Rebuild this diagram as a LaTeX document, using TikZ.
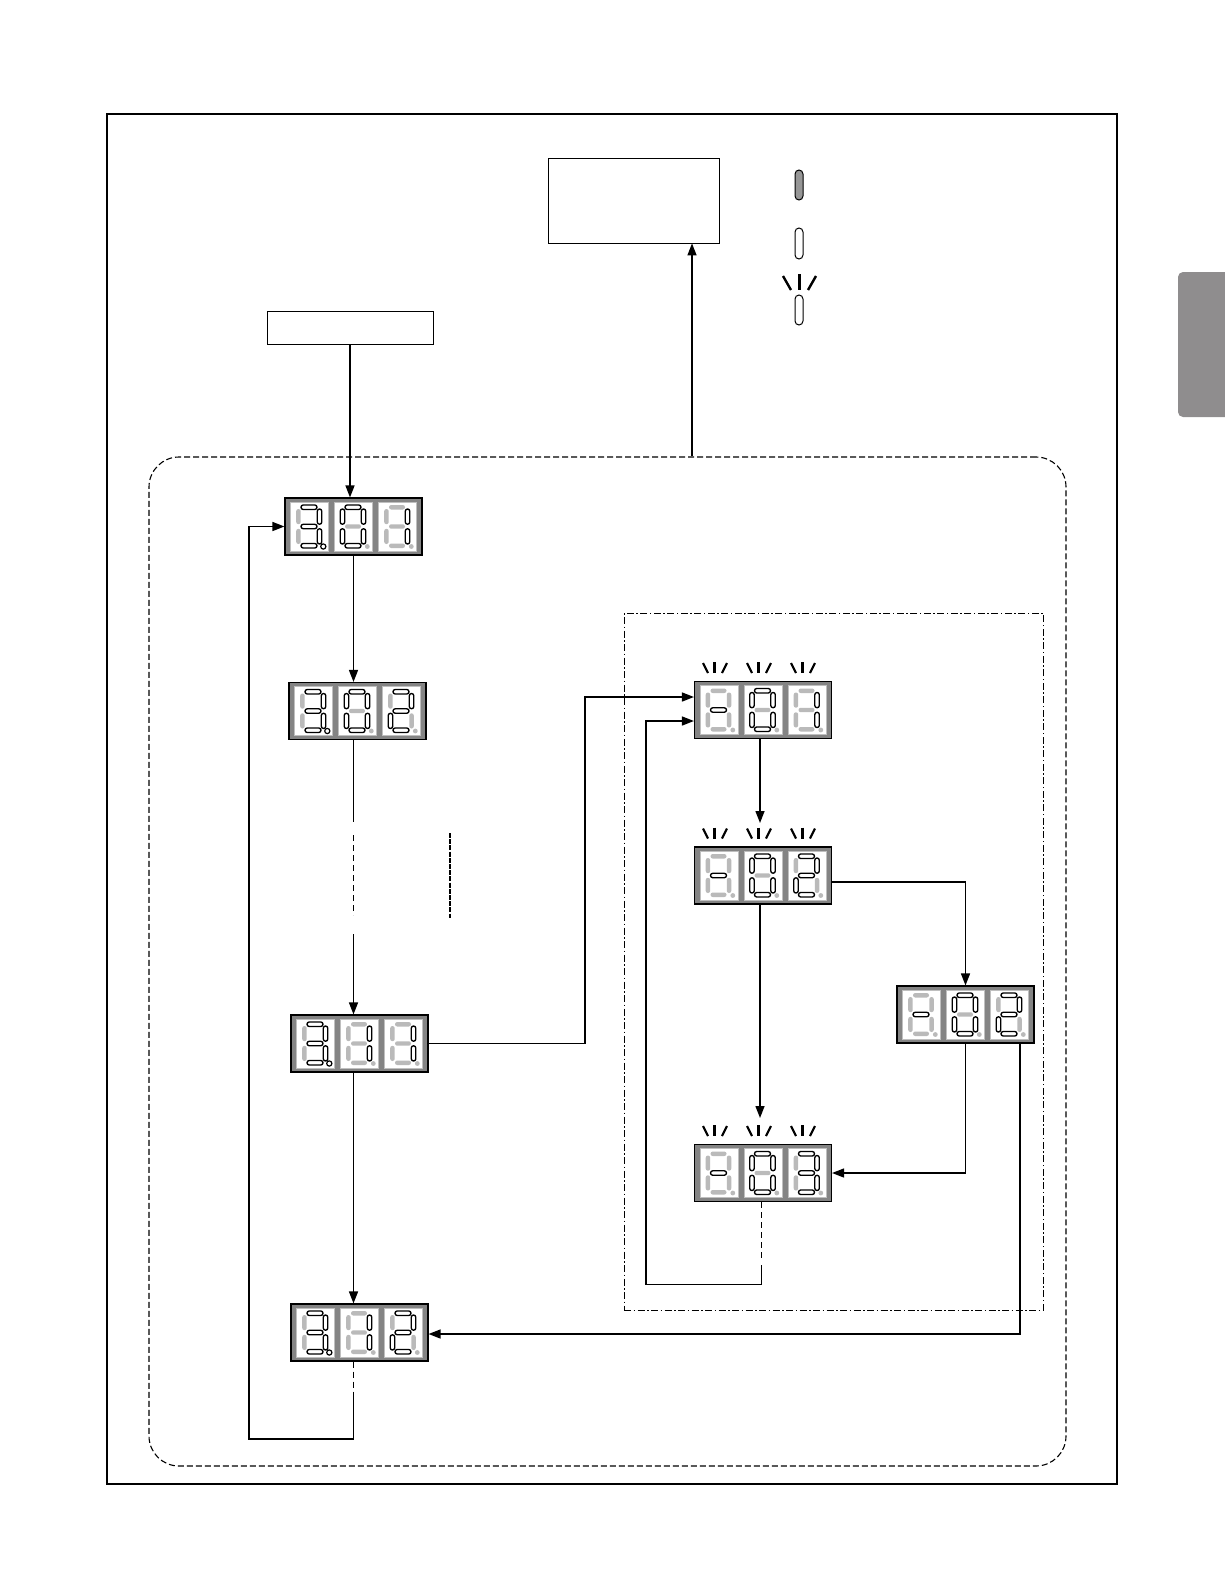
\documentclass[tikz,border=0pt]{standalone}
\usetikzlibrary{arrows.meta,calc}
\definecolor{dispgray}{RGB}{132,132,132}
\definecolor{segoffc}{RGB}{186,186,186}
\definecolor{tabgray}{RGB}{143,141,142}
\definecolor{ledgray}{RGB}{150,150,150}
\tikzset{
  ln/.style={line width=1.4pt},
  arr/.style={line width=1.4pt,-{Triangle[length=12pt,width=9pt]}},
  disp/.style={draw=black,fill=dispgray,minimum width=137pt,minimum height=57pt,inner sep=0pt,line width=1.1pt},
  cellst/.style={draw=gray!50,fill=white,line width=0.6pt},
  segon/.style={draw=black,fill=white,line width=1.35pt,rounded corners=2.2pt},
  segoff/.style={fill=segoffc,draw=none,rounded corners=2.2pt},
  ray/.style={line width=2.2pt},
  ledst/.style={draw=black,line width=1pt,rounded corners=4pt},
}
\newcommand\segp[5]{\ifnum#1=1 \path[segon] (#2,#3) rectangle (#4,#5);\else \path[segoff] (#2,#3) rectangle (#4,#5);\fi}
\newcommand\mydig[9]{%
  \begin{scope}[shift={#1}]
    \draw[cellst] (-19,-24.5) rectangle (19,24.5);
    \segp{#2}{-8.5}{-21.5}{7.5}{-17}%
    \segp{#3}{7.8}{-17.5}{12.3}{-2.3}%
    \segp{#4}{7.8}{2.3}{12.3}{17.5}%
    \segp{#5}{-8.5}{17}{7.5}{21.5}%
    \segp{#6}{-13.3}{2.3}{-8.8}{17.5}%
    \segp{#7}{-13.3}{-17.5}{-8.8}{-2.3}%
    \segp{#8}{-8.5}{-2.2}{7.5}{2.2}%
    \ifnum#9=1 \draw[black,fill=white,line width=1.2pt] (13.8,20) circle (2.6pt);%
    \else \fill[segoffc] (13.8,20) circle (2.4pt);\fi
  \end{scope}}
\newcommand\sgThree[2]{\mydig{#1}{1}{1}{1}{1}{0}{0}{1}{#2}}
\newcommand\sgZero[1]{\mydig{#1}{1}{1}{1}{1}{1}{1}{0}{0}}
\newcommand\sgOne[1]{\mydig{#1}{0}{1}{1}{0}{0}{0}{0}{0}}
\newcommand\sgTwo[1]{\mydig{#1}{1}{1}{0}{1}{1}{0}{1}{0}}
\newcommand\sgTri[1]{\mydig{#1}{1}{1}{1}{1}{0}{0}{1}{0}}
\newcommand\sgDash[1]{\mydig{#1}{0}{0}{0}{0}{0}{0}{1}{0}}
\newcommand\sgBlink[1]{%
  \begin{scope}[shift={(#1,0)}]
    \draw[ray] (-16,-47) -- (-11,-37);
    \draw[ray] (-4.5,-48) -- (-4.5,-37);
    \draw[ray] (8,-47) -- (3,-37);
  \end{scope}}
\begin{document}
\begin{tikzpicture}[x=1pt,y=-1pt]
\useasboundingbox (0,0) rectangle (1224,1584);
% outer frame
\node[draw,line width=1.3pt,minimum width=1010pt,minimum height=1370pt,inner sep=0pt] (frame) at (612,799) {};
% side tab
\fill[tabgray,rounded corners=5pt] (1178,272) rectangle (1236,417);
% top boxes
\node[draw,line width=0.8pt,minimum width=171pt,minimum height=85pt,inner sep=0pt] (tb) at (633.5,200.5) {};
\node[draw,line width=0.8pt,minimum width=166pt,minimum height=33pt,inner sep=0pt] (bx) at (350,327.5) {};
% legend LEDs
\draw[ledst,fill=ledgray] (795,170) rectangle (803,200);
\draw[ledst,fill=white] (795,228) rectangle (803,259);
\draw[ledst,fill=white] (795,295) rectangle (803,325);
\draw[ray,line width=2.4pt] (783,276) -- (791,290);
\draw[ray,line width=2.4pt] (799.5,274) -- (799.5,290);
\draw[ray,line width=2.4pt] (816,276) -- (808,290);
% group frames
\node[draw,dash pattern=on 6pt off 3pt,line width=1.1pt,rounded corners=30pt,minimum width=917pt,minimum height=1009pt,inner sep=0pt] (grp) at (607.5,961.5) {};
\node[draw,dash pattern=on 7pt off 2.5pt on 1.5pt off 2.5pt,line width=1pt,minimum width=419pt,minimum height=697pt,inner sep=0pt] (sub) at (833.5,961.5) {};
% displays
\node[disp] (d1) at (353.5,526.5) {};
\node[disp] (d2) at (357.5,711) {};
\node[disp] (d3) at (359.5,1043.5) {};
\node[disp] (d4) at (359.5,1332.5) {};
\node[disp] (d5) at (763,710) {};
\node[disp] (d6) at (763,875.5) {};
\node[disp] (d7) at (965.5,1014.5) {};
\node[disp] (d8) at (763,1173) {};
\begin{scope}[shift={(d1.center)}]\sgThree{(-44,0)}{1}\sgZero{(0,0)}\sgOne{(44,0)}\end{scope}
\begin{scope}[shift={(d2.center)}]\sgThree{(-44,0)}{1}\sgZero{(0,0)}\sgTwo{(44,0)}\end{scope}
\begin{scope}[shift={(d3.center)}]\sgThree{(-44,0)}{1}\sgOne{(0,0)}\sgOne{(44,0)}\end{scope}
\begin{scope}[shift={(d4.center)}]\sgThree{(-44,0)}{1}\sgOne{(0,0)}\sgTwo{(44,0)}\end{scope}
\begin{scope}[shift={(d5.center)}]\sgDash{(-44,0)}\sgZero{(0,0)}\sgOne{(44,0)}\sgBlink{-44}\sgBlink{0}\sgBlink{44}\end{scope}
\begin{scope}[shift={(d6.center)}]\sgDash{(-44,0)}\sgZero{(0,0)}\sgTwo{(44,0)}\sgBlink{-44}\sgBlink{0}\sgBlink{44}\end{scope}
\begin{scope}[shift={(d7.center)}]\sgDash{(-44,0)}\sgZero{(0,0)}\sgTwo{(44,0)}\end{scope}
\begin{scope}[shift={(d8.center)}]\sgDash{(-44,0)}\sgZero{(0,0)}\sgTri{(44,0)}\sgBlink{-44}\sgBlink{0}\sgBlink{44}\end{scope}
% column coordinates
\coordinate (cL) at (353.5,0);
\coordinate (cR) at (760,0);
\coordinate (cT) at (692,0);
% connectors left column
\draw[arr] (bx.south) -- (bx.south |- d1.north);
\draw[arr] (d1.south -| cL) -- (d2.north -| cL);
\coordinate (m1) at (353.5,822);
\coordinate (m2) at (353.5,835);
\coordinate (m3) at (353.5,915);
\coordinate (m4) at (353.5,934);
\draw[ln] (d2.south -| cL) -- (m1);
\draw[ln,dash pattern=on 6pt off 4pt] (m2) -- (m3);
\draw[arr] (m4) -- (d3.north -| cL);
\coordinate (q1) at (450,833);
\coordinate (q2) at (450,918);
\draw[line width=2.8pt,dash pattern=on 5pt off 1.2pt] (q1) -- (q2);
\draw[arr] (d3.south -| cL) -- (d4.north -| cL);
\coordinate (m5) at (353.5,1393);
\coordinate (m6) at (353.5,1439);
\coordinate (m7) at (249,1439);
\draw[ln,dash pattern=on 6pt off 4pt] (d4.south -| cL) -- (m5);
\draw[arr] (m5) -- (m6) -- (m7) |- (d1.west);
% to top box
\draw[arr] (grp.north -| cT) -- (tb.south -| cT);
% d3 -> d5
\coordinate (p1) at (585,1043.5);
\draw[arr] (d3.east) -- (p1) |- ($(d5.west)+(0,-13)$);
% right column
\draw[arr] (d5.south -| cR) -- (760,823);
\draw[arr] (d6.south -| cR) -- (760,1118);
\draw[arr] ($(d6.east)+(0,6.5)$) -| (d7.north);
\draw[arr] (d7.south) |- (d8.east);
\coordinate (r1) at (1020,1334);
\draw[arr] (d7.south -| r1) -- (r1) -- (d4.east |- r1);
\coordinate (s1) at (761.5,1258);
\coordinate (s2) at (761.5,1265);
\coordinate (s3) at (761.5,1284.5);
\coordinate (s4) at (646,721);
\draw[ln,dash pattern=on 6pt off 4pt] (d8.south -| s1) -- (s1);
\draw[arr] (s2) -- (s3) -| (s4) -- ($(d5.west)+(0,11)$);
\end{tikzpicture}
\end{document}
